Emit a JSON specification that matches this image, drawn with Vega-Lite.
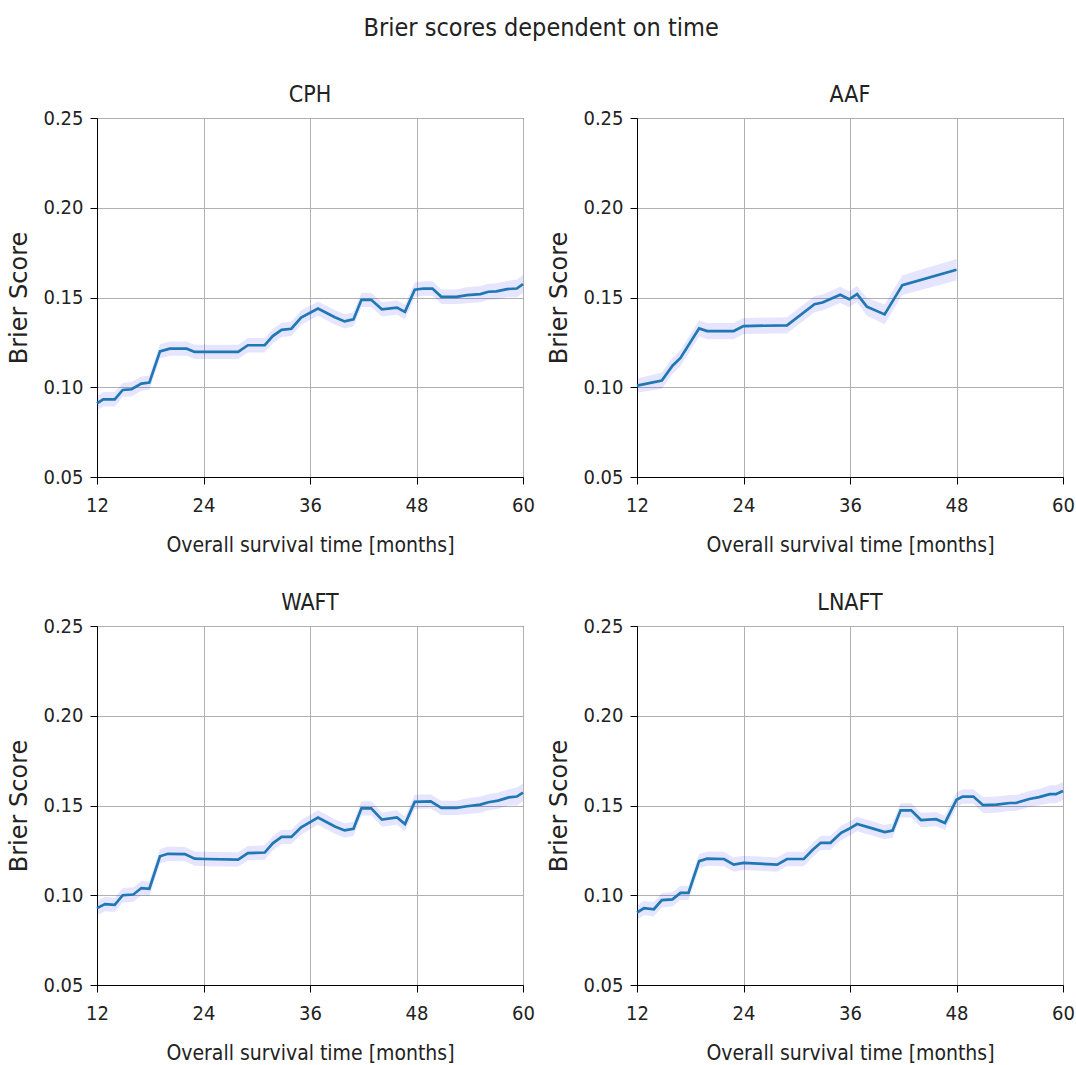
{
  "$schema": "https://vega.github.io/schema/vega-lite/v6.json",
  "padding": {"left": 7, "top": 15, "right": 5, "bottom": 5},
  "title": {"text": "Brier scores dependent on time", "fontSize": 25, "fontWeight": "normal", "font": "DejaVu Sans Condensed, DejaVu Sans", "color": "#222", "offset": 43, "anchor": "middle"},
  "data": {"values": [
    {"model":"CPH","t":12,"b":0.0910,"lo":0.0870,"hi":0.0950},
    {"model":"CPH","t":12.7,"b":0.0933,"lo":0.0893,"hi":0.0973},
    {"model":"CPH","t":14,"b":0.0933,"lo":0.0893,"hi":0.0973},
    {"model":"CPH","t":14.9,"b":0.0985,"lo":0.0945,"hi":0.1025},
    {"model":"CPH","t":15.9,"b":0.0989,"lo":0.0949,"hi":0.1029},
    {"model":"CPH","t":17,"b":0.1020,"lo":0.0980,"hi":0.1060},
    {"model":"CPH","t":17.9,"b":0.1026,"lo":0.0986,"hi":0.1066},
    {"model":"CPH","t":19.1,"b":0.1200,"lo":0.1160,"hi":0.1240},
    {"model":"CPH","t":20.2,"b":0.1215,"lo":0.1175,"hi":0.1255},
    {"model":"CPH","t":22.1,"b":0.1215,"lo":0.1175,"hi":0.1255},
    {"model":"CPH","t":23,"b":0.1197,"lo":0.1157,"hi":0.1237},
    {"model":"CPH","t":24.1,"b":0.1197,"lo":0.1157,"hi":0.1237},
    {"model":"CPH","t":27.9,"b":0.1197,"lo":0.1157,"hi":0.1237},
    {"model":"CPH","t":29,"b":0.1234,"lo":0.1194,"hi":0.1274},
    {"model":"CPH","t":30.9,"b":0.1234,"lo":0.1194,"hi":0.1274},
    {"model":"CPH","t":31.8,"b":0.1285,"lo":0.1245,"hi":0.1325},
    {"model":"CPH","t":32.8,"b":0.1320,"lo":0.1280,"hi":0.1360},
    {"model":"CPH","t":33.9,"b":0.1326,"lo":0.1286,"hi":0.1366},
    {"model":"CPH","t":35,"b":0.1388,"lo":0.1348,"hi":0.1428},
    {"model":"CPH","t":36.9,"b":0.1438,"lo":0.1398,"hi":0.1478},
    {"model":"CPH","t":38.8,"b":0.1390,"lo":0.1350,"hi":0.1430},
    {"model":"CPH","t":39.9,"b":0.1367,"lo":0.1327,"hi":0.1407},
    {"model":"CPH","t":40.9,"b":0.1378,"lo":0.1338,"hi":0.1418},
    {"model":"CPH","t":41.8,"b":0.1487,"lo":0.1447,"hi":0.1527},
    {"model":"CPH","t":42.9,"b":0.1487,"lo":0.1447,"hi":0.1527},
    {"model":"CPH","t":44.1,"b":0.1434,"lo":0.1394,"hi":0.1474},
    {"model":"CPH","t":45.8,"b":0.1444,"lo":0.1404,"hi":0.1484},
    {"model":"CPH","t":46.7,"b":0.1420,"lo":0.1380,"hi":0.1460},
    {"model":"CPH","t":47.8,"b":0.1543,"lo":0.1503,"hi":0.1583},
    {"model":"CPH","t":48.8,"b":0.1550,"lo":0.1510,"hi":0.1590},
    {"model":"CPH","t":49.8,"b":0.1550,"lo":0.1510,"hi":0.1590},
    {"model":"CPH","t":50.8,"b":0.1504,"lo":0.1464,"hi":0.1544},
    {"model":"CPH","t":52.5,"b":0.1504,"lo":0.1464,"hi":0.1544},
    {"model":"CPH","t":53.7,"b":0.1513,"lo":0.1468,"hi":0.1558},
    {"model":"CPH","t":55.2,"b":0.1519,"lo":0.1474,"hi":0.1564},
    {"model":"CPH","t":56.1,"b":0.1532,"lo":0.1487,"hi":0.1577},
    {"model":"CPH","t":57,"b":0.1534,"lo":0.1489,"hi":0.1579},
    {"model":"CPH","t":58.2,"b":0.1547,"lo":0.1502,"hi":0.1592},
    {"model":"CPH","t":59.3,"b":0.1550,"lo":0.1500,"hi":0.1600},
    {"model":"CPH","t":60,"b":0.1575,"lo":0.1525,"hi":0.1625},
    {"model":"AAF","t":12,"b":0.1009,"lo":0.0969,"hi":0.1049},
    {"model":"AAF","t":14.8,"b":0.1037,"lo":0.0992,"hi":0.1082},
    {"model":"AAF","t":16,"b":0.1120,"lo":0.1075,"hi":0.1165},
    {"model":"AAF","t":16.9,"b":0.1163,"lo":0.1118,"hi":0.1208},
    {"model":"AAF","t":19,"b":0.1328,"lo":0.1283,"hi":0.1373},
    {"model":"AAF","t":19.9,"b":0.1313,"lo":0.1268,"hi":0.1358},
    {"model":"AAF","t":22.9,"b":0.1313,"lo":0.1268,"hi":0.1358},
    {"model":"AAF","t":24,"b":0.1341,"lo":0.1296,"hi":0.1386},
    {"model":"AAF","t":28.9,"b":0.1345,"lo":0.1300,"hi":0.1390},
    {"model":"AAF","t":32,"b":0.1463,"lo":0.1418,"hi":0.1508},
    {"model":"AAF","t":32.9,"b":0.1472,"lo":0.1427,"hi":0.1517},
    {"model":"AAF","t":34.9,"b":0.1515,"lo":0.1470,"hi":0.1560},
    {"model":"AAF","t":35.9,"b":0.1490,"lo":0.1445,"hi":0.1535},
    {"model":"AAF","t":36.8,"b":0.1519,"lo":0.1474,"hi":0.1564},
    {"model":"AAF","t":37.9,"b":0.1449,"lo":0.1399,"hi":0.1499},
    {"model":"AAF","t":39.9,"b":0.1406,"lo":0.1351,"hi":0.1461},
    {"model":"AAF","t":41.9,"b":0.1569,"lo":0.1514,"hi":0.1624},
    {"model":"AAF","t":48,"b":0.1655,"lo":0.1595,"hi":0.1715},
    {"model":"WAFT","t":12,"b":0.0928,"lo":0.0888,"hi":0.0968},
    {"model":"WAFT","t":12.9,"b":0.0951,"lo":0.0911,"hi":0.0991},
    {"model":"WAFT","t":14,"b":0.0946,"lo":0.0906,"hi":0.0986},
    {"model":"WAFT","t":14.9,"b":0.1000,"lo":0.0960,"hi":0.1040},
    {"model":"WAFT","t":16.1,"b":0.1004,"lo":0.0964,"hi":0.1044},
    {"model":"WAFT","t":17,"b":0.1040,"lo":0.1000,"hi":0.1080},
    {"model":"WAFT","t":17.9,"b":0.1036,"lo":0.0996,"hi":0.1076},
    {"model":"WAFT","t":19.1,"b":0.1217,"lo":0.1177,"hi":0.1257},
    {"model":"WAFT","t":20,"b":0.1231,"lo":0.1191,"hi":0.1271},
    {"model":"WAFT","t":21.9,"b":0.1229,"lo":0.1189,"hi":0.1269},
    {"model":"WAFT","t":23,"b":0.1204,"lo":0.1164,"hi":0.1244},
    {"model":"WAFT","t":24.1,"b":0.1202,"lo":0.1162,"hi":0.1242},
    {"model":"WAFT","t":27.9,"b":0.1199,"lo":0.1159,"hi":0.1239},
    {"model":"WAFT","t":29,"b":0.1235,"lo":0.1195,"hi":0.1275},
    {"model":"WAFT","t":30.9,"b":0.1238,"lo":0.1198,"hi":0.1278},
    {"model":"WAFT","t":31.8,"b":0.1289,"lo":0.1249,"hi":0.1329},
    {"model":"WAFT","t":32.8,"b":0.1325,"lo":0.1285,"hi":0.1365},
    {"model":"WAFT","t":33.9,"b":0.1325,"lo":0.1285,"hi":0.1365},
    {"model":"WAFT","t":35,"b":0.1379,"lo":0.1339,"hi":0.1419},
    {"model":"WAFT","t":36.9,"b":0.1433,"lo":0.1393,"hi":0.1473},
    {"model":"WAFT","t":38.8,"b":0.1383,"lo":0.1343,"hi":0.1423},
    {"model":"WAFT","t":39.9,"b":0.1361,"lo":0.1321,"hi":0.1401},
    {"model":"WAFT","t":40.9,"b":0.1370,"lo":0.1330,"hi":0.1410},
    {"model":"WAFT","t":41.8,"b":0.1484,"lo":0.1444,"hi":0.1524},
    {"model":"WAFT","t":42.9,"b":0.1484,"lo":0.1444,"hi":0.1524},
    {"model":"WAFT","t":44.1,"b":0.1421,"lo":0.1381,"hi":0.1461},
    {"model":"WAFT","t":45.8,"b":0.1433,"lo":0.1393,"hi":0.1473},
    {"model":"WAFT","t":46.7,"b":0.1397,"lo":0.1357,"hi":0.1437},
    {"model":"WAFT","t":47.8,"b":0.1520,"lo":0.1480,"hi":0.1560},
    {"model":"WAFT","t":49.6,"b":0.1523,"lo":0.1483,"hi":0.1563},
    {"model":"WAFT","t":50.8,"b":0.1487,"lo":0.1447,"hi":0.1527},
    {"model":"WAFT","t":52.5,"b":0.1487,"lo":0.1447,"hi":0.1527},
    {"model":"WAFT","t":53.7,"b":0.1496,"lo":0.1451,"hi":0.1541},
    {"model":"WAFT","t":55.2,"b":0.1505,"lo":0.1460,"hi":0.1550},
    {"model":"WAFT","t":56.1,"b":0.1518,"lo":0.1473,"hi":0.1563},
    {"model":"WAFT","t":57.2,"b":0.1527,"lo":0.1482,"hi":0.1572},
    {"model":"WAFT","t":58.4,"b":0.1545,"lo":0.1500,"hi":0.1590},
    {"model":"WAFT","t":59.3,"b":0.1550,"lo":0.1500,"hi":0.1600},
    {"model":"WAFT","t":60,"b":0.1572,"lo":0.1522,"hi":0.1622},
    {"model":"LNAFT","t":12,"b":0.0904,"lo":0.0864,"hi":0.0944},
    {"model":"LNAFT","t":12.8,"b":0.0928,"lo":0.0888,"hi":0.0968},
    {"model":"LNAFT","t":13.9,"b":0.0922,"lo":0.0882,"hi":0.0962},
    {"model":"LNAFT","t":14.8,"b":0.0973,"lo":0.0933,"hi":0.1013},
    {"model":"LNAFT","t":16,"b":0.0977,"lo":0.0937,"hi":0.1017},
    {"model":"LNAFT","t":16.9,"b":0.1013,"lo":0.0973,"hi":0.1053},
    {"model":"LNAFT","t":17.8,"b":0.1013,"lo":0.0973,"hi":0.1053},
    {"model":"LNAFT","t":19,"b":0.1190,"lo":0.1150,"hi":0.1230},
    {"model":"LNAFT","t":19.9,"b":0.1204,"lo":0.1164,"hi":0.1244},
    {"model":"LNAFT","t":21.8,"b":0.1202,"lo":0.1162,"hi":0.1242},
    {"model":"LNAFT","t":22.9,"b":0.1171,"lo":0.1131,"hi":0.1211},
    {"model":"LNAFT","t":24,"b":0.1180,"lo":0.1140,"hi":0.1220},
    {"model":"LNAFT","t":27.8,"b":0.1171,"lo":0.1131,"hi":0.1211},
    {"model":"LNAFT","t":28.9,"b":0.1202,"lo":0.1162,"hi":0.1242},
    {"model":"LNAFT","t":30.8,"b":0.1202,"lo":0.1162,"hi":0.1242},
    {"model":"LNAFT","t":31.8,"b":0.1253,"lo":0.1213,"hi":0.1293},
    {"model":"LNAFT","t":32.7,"b":0.1292,"lo":0.1252,"hi":0.1332},
    {"model":"LNAFT","t":33.8,"b":0.1292,"lo":0.1252,"hi":0.1332},
    {"model":"LNAFT","t":35,"b":0.1348,"lo":0.1308,"hi":0.1388},
    {"model":"LNAFT","t":35.9,"b":0.1370,"lo":0.1330,"hi":0.1410},
    {"model":"LNAFT","t":36.8,"b":0.1397,"lo":0.1357,"hi":0.1437},
    {"model":"LNAFT","t":38.7,"b":0.1370,"lo":0.1330,"hi":0.1410},
    {"model":"LNAFT","t":39.9,"b":0.1352,"lo":0.1312,"hi":0.1392},
    {"model":"LNAFT","t":40.8,"b":0.1361,"lo":0.1321,"hi":0.1401},
    {"model":"LNAFT","t":41.7,"b":0.1473,"lo":0.1433,"hi":0.1513},
    {"model":"LNAFT","t":42.9,"b":0.1473,"lo":0.1433,"hi":0.1513},
    {"model":"LNAFT","t":44,"b":0.1419,"lo":0.1379,"hi":0.1459},
    {"model":"LNAFT","t":45.7,"b":0.1424,"lo":0.1384,"hi":0.1464},
    {"model":"LNAFT","t":46.7,"b":0.1403,"lo":0.1363,"hi":0.1443},
    {"model":"LNAFT","t":48,"b":0.1532,"lo":0.1492,"hi":0.1572},
    {"model":"LNAFT","t":48.7,"b":0.1550,"lo":0.1510,"hi":0.1590},
    {"model":"LNAFT","t":49.9,"b":0.1550,"lo":0.1510,"hi":0.1590},
    {"model":"LNAFT","t":51,"b":0.1502,"lo":0.1457,"hi":0.1547},
    {"model":"LNAFT","t":52.5,"b":0.1505,"lo":0.1460,"hi":0.1550},
    {"model":"LNAFT","t":54,"b":0.1514,"lo":0.1469,"hi":0.1559},
    {"model":"LNAFT","t":54.7,"b":0.1514,"lo":0.1469,"hi":0.1559},
    {"model":"LNAFT","t":56.2,"b":0.1536,"lo":0.1491,"hi":0.1581},
    {"model":"LNAFT","t":57.3,"b":0.1547,"lo":0.1502,"hi":0.1592},
    {"model":"LNAFT","t":58.5,"b":0.1563,"lo":0.1513,"hi":0.1613},
    {"model":"LNAFT","t":59.2,"b":0.1563,"lo":0.1513,"hi":0.1613},
    {"model":"LNAFT","t":60,"b":0.1581,"lo":0.1531,"hi":0.1631}
  ]},
  "facet": {"field": "model", "type": "nominal", "sort": ["CPH", "AAF", "WAFT", "LNAFT"],
    "header": {"title": null, "labelFontSize": 23, "labelFont": "DejaVu Sans Condensed, DejaVu Sans", "labelColor": "#222", "labelPadding": 1}},
  "columns": 2,
  "spacing": {"column": 12, "row": 35},
  "resolve": {"axis": {"x": "independent", "y": "independent"}},
  "spec": {
    "width": 426,
    "height": 359,
    "encoding": {
      "x": {"field": "t", "type": "quantitative", "scale": {"domain": [12, 60], "nice": false},
        "axis": {"values": [12, 24, 36, 48, 60], "title": "Overall survival time [months]", "labelFlush": false, "labelOverlap": false}}
    },
    "layer": [
      {"mark": {"type": "area", "color": "#0000ff", "opacity": 0.1},
       "encoding": {"y": {"field": "lo", "type": "quantitative", "scale": {"domain": [0.05, 0.25], "nice": false},
         "axis": {"values": [0.05, 0.1, 0.15, 0.2, 0.25], "format": ".2f", "title": "Brier Score", "labelFlush": false, "labelOverlap": false}},
         "y2": {"field": "hi"}}},
      {"mark": {"type": "line", "color": "#1f77b4", "strokeWidth": 2.7},
       "encoding": {"y": {"field": "b", "type": "quantitative"}}}
    ]
  },
  "config": {
    "view": {"stroke": "black", "strokeWidth": 1},
    "axis": {"domainColor": "black", "tickColor": "black", "tickSize": 7, "labelFontSize": 20,
      "labelFont": "DejaVu Sans Condensed, DejaVu Sans", "labelColor": "#222", "titleFontSize": 21, "titleFontWeight": "normal",
      "titleFont": "DejaVu Sans Condensed, DejaVu Sans", "titleColor": "#222", "gridColor": "#b0b0b0", "gridOpacity": 1, "gridWidth": 1},
    "axisX": {"labelPadding": 11, "titlePadding": 19},
    "axisY": {"titleFont": "DejaVu Sans", "titleFontSize": 24, "titlePadding": 11, "labelPadding": 7}
  }
}
